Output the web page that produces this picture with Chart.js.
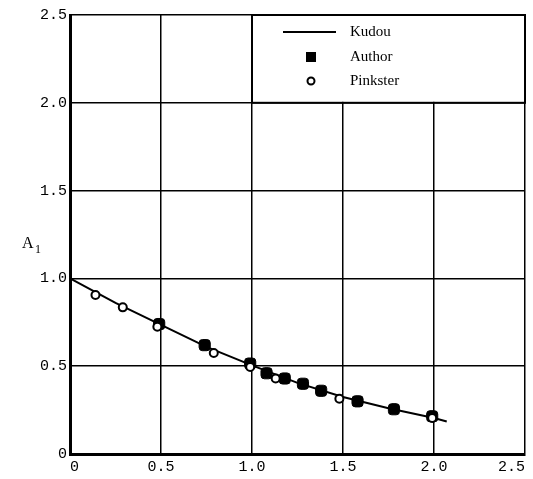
<!DOCTYPE html>
<html>
<head>
<meta charset="utf-8">
<script src="https://cdn.jsdelivr.net/npm/chart.js@4.4.1/dist/chart.umd.min.js"></script>
<style>
  html, body { margin: 0; padding: 0; background: #fff; }
  #wrap { width: 533px; height: 479px; }
</style>
</head>
<body>
<div id="wrap"><canvas id="chart"></canvas></div>
<script>
const xTicks = ['0', '0.5', '1.0', '1.5', '2.0', '2.5'];
const yTicks = ['0', '0.5', '1.0', '1.5', '2.0', '2.5'];

// Kudou curve
const kudouX = [0, 0.25, 0.5, 0.75, 1.0, 1.25, 1.5, 1.75, 2.0, 2.07];
const kudouY = [1.0, 0.86, 0.735, 0.61, 0.505, 0.405, 0.325, 0.26, 0.205, 0.185];

// Author (filled squares)
const authorX = [0.49, 0.74, 0.99, 1.08, 1.18, 1.28, 1.38, 1.58, 1.78, 1.99];
const authorY = [0.74, 0.62, 0.515, 0.46, 0.43, 0.40, 0.36, 0.30, 0.255, 0.215];

// Pinkster (open circles)
const pinkX = [0.14, 0.29, 0.48, 0.79, 0.99, 1.13, 1.48, 1.99];
const pinkY = [0.905, 0.835, 0.725, 0.575, 0.495, 0.43, 0.315, 0.205];

const toPts = (xs, ys) => xs.map((x, i) => ({ x: x, y: ys[i] }));

const FONT = '"Liberation Serif", "DejaVu Serif", serif';
const TICKFONT = '"Liberation Mono", "DejaVu Sans Mono", monospace';

// legend box sits in the top right cells, with a white background
const legendBox = {
    id: 'legendBox',
    afterDatasetsDraw(chart) {
        const { ctx, scales } = chart;
        const x0 = scales.x.getPixelForValue(1.0);
        const x1 = scales.x.getPixelForValue(2.5);
        const y0 = scales.y.getPixelForValue(2.5);
        const y1 = scales.y.getPixelForValue(2.0);
        ctx.save();
        ctx.fillStyle = '#fff';
        ctx.fillRect(x0 + 1, y0 + 1, x1 - x0 - 2, y1 - y0 - 2);
        ctx.strokeStyle = '#000';
        ctx.lineWidth = 2;
        ctx.strokeRect(x0, y0, x1 - x0, y1 - y0);

        const sx = x0 + 59;
        const tx = x0 + 98;
        const rows = [y0 + 17, y0 + 42, y0 + 66];
        ctx.lineWidth = 2;
        ctx.beginPath();
        ctx.moveTo(x0 + 31, rows[0]);
        ctx.lineTo(x0 + 84, rows[0]);
        ctx.stroke();
        ctx.fillStyle = '#000';
        ctx.fillRect(sx - 5, rows[1] - 5, 10, 10);
        ctx.beginPath();
        ctx.arc(sx, rows[2], 3.5, 0, Math.PI * 2);
        ctx.fillStyle = '#fff';
        ctx.fill();
        ctx.stroke();

        ctx.fillStyle = '#000';
        ctx.font = '15px ' + FONT;
        ctx.textBaseline = 'middle';
        ctx.textAlign = 'left';
        ['Kudou', 'Author', 'Pinkster'].forEach((t, i) => ctx.fillText(t, tx, rows[i]));

        // y axis title A1, not rotated
        const ym = (scales.y.top + scales.y.bottom) / 2 + 9;
        ctx.font = '16px ' + FONT;
        ctx.fillText('A', 22, ym);
        ctx.font = '12px ' + FONT;
        ctx.fillText('1', 35, ym + 6);
        ctx.restore();
    }
};

const ctx = document.getElementById('chart').getContext('2d');
new Chart(ctx, {
    type: 'scatter',
    data: {
        datasets: [
            {
                label: 'Pinkster',
                data: toPts(pinkX, pinkY),
                pointStyle: 'circle',
                pointRadius: 4,
                pointBorderWidth: 2,
                pointBackgroundColor: '#fff',
                pointBorderColor: '#000',
                order: 0
            },
            {
                label: 'Author',
                data: toPts(authorX, authorY),
                pointStyle: 'rectRounded',
                pointRadius: 6.5,
                pointBorderWidth: 1,
                pointBackgroundColor: '#000',
                pointBorderColor: '#000',
                order: 1
            },
            {
                type: 'line',
                label: 'Kudou',
                data: toPts(kudouX, kudouY),
                borderColor: '#000',
                borderWidth: 2,
                pointRadius: 0,
                fill: false,
                tension: 0,
                order: 2
            }
        ]
    },
    options: {
        responsive: true,
        maintainAspectRatio: false,
        animation: false,
        layout: { padding: { top: 15, right: 8, left: 0, bottom: 0 } },
        plugins: {
            legend: { display: false },
            tooltip: { enabled: false }
        },
        scales: {
            x: {
                type: 'linear',
                min: 0,
                max: 2.5,
                afterBuildTicks: (s) => { s.ticks = xTicks.map(v => ({ value: parseFloat(v) })); },
                afterFit: (s) => { s.height = 25; s.paddingLeft = 0; s.paddingRight = 0; },
                ticks: {
                    color: '#000',
                    font: { family: TICKFONT, size: 15 },
                    padding: 4,
                    align: 'inner',
                    callback: (v, i) => xTicks[i]
                },
                grid: { color: '#000', lineWidth: 1.5, drawTicks: false },
                border: { color: '#000', width: 3 }
            },
            y: {
                type: 'linear',
                min: 0,
                max: 2.5,
                afterBuildTicks: (s) => { s.ticks = yTicks.map(v => ({ value: parseFloat(v) })); },
                afterFit: (s) => { s.width = 70; s.paddingTop = 0; s.paddingBottom = 0; },
                ticks: {
                    color: '#000',
                    font: { family: TICKFONT, size: 15 },
                    padding: 3,
                    callback: (v, i) => yTicks[i]
                },
                grid: { color: '#000', lineWidth: 1.5, drawTicks: false },
                border: { color: '#000', width: 3 }
            }
        }
    },
    plugins: [legendBox]
});
</script>
</body>
</html>
